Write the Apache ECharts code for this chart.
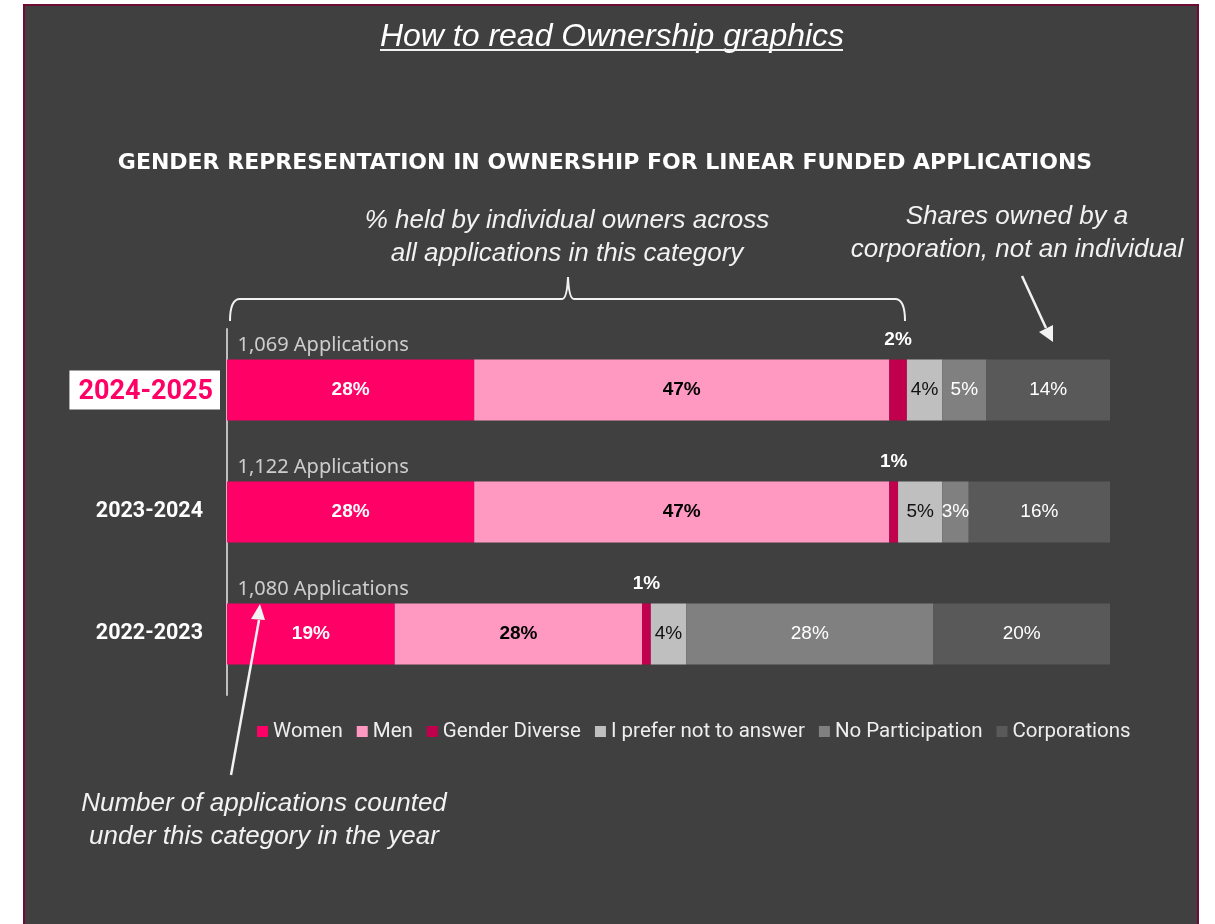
<!DOCTYPE html>
<html>
<head>
<meta charset="utf-8">
<script src="https://cdn.jsdelivr.net/npm/echarts@6/dist/echarts.min.js"></script>
<style>
  html, body { margin: 0; padding: 0; background: #ffffff; }
  #frame {
    position: absolute; left: 23px; top: 4px; width: 1172px; height: 940px;
    background: #404040; border: 2px solid #6e0c33;
  }
  #chart { position: absolute; left: 0; top: 0; width: 1215px; height: 924px; }
</style>
</head>
<body>
<div id="frame"></div>
<div id="chart"></div>
<script>
// years, top to bottom
const years = ['2024-2025', '2023-2024', '2022-2023']
const applications = ['1,069', '1,122', '1,080']

// % share per group
const women = [28, 28, 19]
const men = [47, 47, 28]
const genderDiverse = [2, 1, 1]
const preferNot = [4, 5, 4]
const noParticipation = [5, 3, 28]
const corporations = [14, 16, 20]

const seriesNames = ['Women', 'Men', 'Gender Diverse', 'I prefer not to answer', 'No Participation', 'Corporations']
const seriesColors = ['#ff0066', '#ff99c2', '#c0004c', '#bfbfbf', '#808080', '#595959']

const font = 'Roboto, "Noto Sans", sans-serif'
const noteFont = '"Liberation Sans", Arial, sans-serif'
const white = '#f2f2f2'

const chart = echarts.init(document.getElementById('chart'))

function barSeries (name, data, color, labelOpt) {
  return {
    name,
    type: 'bar',
    stack: 'total',
    barWidth: 61,
    data,
    itemStyle: { color },
    emphasis: { disabled: true },
    label: Object.assign({
      show: true,
      formatter: '{c}%',
      fontFamily: noteFont,
      fontSize: 19
    }, labelOpt)
  }
}

function note (text, x, y) {
  return {
    type: 'text',
    z: 100,
    style: {
      text, x, y,
      fill: white, fontSize: 26, fontStyle: 'italic', lineHeight: 33,
      align: 'center', verticalAlign: 'top', fontFamily: noteFont
    }
  }
}

const line = (x1, y1, x2, y2, w) => ({
  type: 'line', z: 100, shape: { x1, y1, x2, y2 }, style: { stroke: white, lineWidth: w || 2 }
})
const curve = (x1, y1, cx, cy, x2, y2) => ({
  type: 'bezierCurve', z: 100, shape: { x1, y1, cpx1: cx, cpy1: cy, x2, y2 }, style: { stroke: white, lineWidth: 2, fill: null }
})

const option = {
  animation: false,
  backgroundColor: 'transparent',
  title: [{
    text: 'How to read Ownership graphics',
    left: 607,
    top: 16,
    textAlign: 'center',
    textStyle: {
      color: '#ffffff', fontSize: 32, fontStyle: 'italic', fontWeight: 'normal', fontFamily: noteFont
    }
  }, {
    text: 'GENDER REPRESENTATION IN OWNERSHIP FOR LINEAR FUNDED APPLICATIONS',
    left: 600,
    top: 147,
    textAlign: 'center',
    textStyle: {
      color: '#ffffff', fontSize: 22, fontWeight: 'bold', fontFamily: '"DejaVu Sans", sans-serif'
    }
  }],
  legend: {
    left: 252,
    top: 716,
    itemWidth: 11,
    itemHeight: 11,
    itemGap: 14,
    icon: 'rect',
    data: seriesNames,
    textStyle: { color: '#eeeeee', fontSize: 20.5, fontFamily: font }
  },
  grid: { left: 227, right: 105, top: 329, height: 366 },
  xAxis: {
    type: 'value', min: 0, max: 100, show: false
  },
  yAxis: {
    type: 'category',
    data: years,
    inverse: true,
    axisLine: { show: true, lineStyle: { color: '#bfbfbf', width: 2 } },
    axisTick: { show: false },
    axisLabel: {
      margin: 7,
      fontFamily: font,
      formatter: (v, i) => i === 0 ? '{hl|' + v + '}' : '{n|' + v + '}',
      rich: {
        n: { color: '#ffffff', fontSize: 21.5, fontWeight: 'bold', fontFamily: font, padding: [0, 17, 0, 0] },
        hl: {
          color: '#ff0066', fontSize: 27, fontWeight: 'bold', fontFamily: font, lineHeight: 33,
          backgroundColor: '#ffffff', padding: [8, 7, 4, 9]
        }
      }
    }
  },
  series: [
    barSeries('Women', women, seriesColors[0], { color: '#ffffff', fontWeight: 'bold' }),
    barSeries('Men', men, seriesColors[1], { color: '#000000', fontWeight: 'bold' }),
    barSeries('Gender Diverse', genderDiverse, seriesColors[2], { color: '#ffffff', fontWeight: 'bold', position: 'top', distance: 10 }),
    barSeries('I prefer not to answer', preferNot, seriesColors[3], { color: '#111111' }),
    barSeries('No Participation', noParticipation, seriesColors[4], { color: '#ffffff' }),
    barSeries('Corporations', corporations, seriesColors[5], { color: '#ffffff' }),
    {
      name: 'applications',
      type: 'scatter',
      symbol: 'circle',
      symbolSize: 1,
      itemStyle: { color: 'rgba(0,0,0,0)' },
      data: years.map((y, i) => [0, y, applications[i]]),
      silent: true,
      z: 5,
      label: {
        show: true,
        position: 'right',
        distance: 10,
        offset: [0, -45],
        formatter: p => p.data[2] + ' Applications',
        color: '#f0f0f0',
        fontSize: 20,
        fontFamily: '"Noto Sans", Roboto, sans-serif'
      }
    }
  ],
  graphic: [
    // underline of the page title
    line(380, 50, 843, 50, 2),
    note('% held by individual owners across\nall applications in this category', 567, 204),
    note('Shares owned by a\ncorporation, not an individual', 1017, 200),
    note('Number of applications counted\nunder this category in the year', 264, 787),
    // brace over the individual owners part
    curve(230, 321, 230, 299, 240, 299),
    line(240, 299, 562, 299),
    curve(562, 299, 567, 299, 568, 277),
    curve(568, 277, 569, 299, 574, 299),
    line(574, 299, 895, 299),
    curve(895, 299, 905, 299, 905, 321),
    // arrow to corporations
    line(1022, 276, 1046, 328, 2.5),
    { type: 'polygon', z: 100, shape: { points: [[1053, 342], [1039, 332], [1053, 325]] }, style: { fill: white } },
    // arrow to applications count
    line(231, 775, 259, 620, 2.5),
    { type: 'polygon', z: 100, shape: { points: [[260, 604], [251, 619], [265, 620]] }, style: { fill: white } }
  ]
}

chart.setOption(option)
</script>
</body>
</html>
